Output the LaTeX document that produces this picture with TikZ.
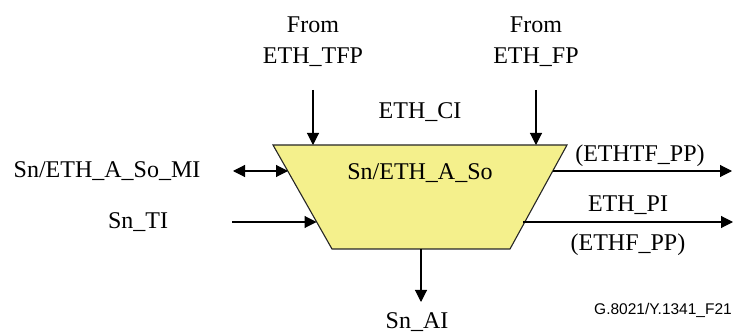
\documentclass[tikz,border=0pt]{standalone}
\usepackage{fontspec}
\setmainfont{Liberation Serif}
\newfontfamily\figsans{Liberation Sans}
\usetikzlibrary{arrows.meta}
\definecolor{boxfill}{HTML}{F4F08C}
\tikzset{
  lbl/.style={font=\fontsize{24}{28}\selectfont, inner sep=0pt},
  conn/.style={line width=1.1pt, -{Triangle[length=12pt,width=12pt]}},
  biconn/.style={line width=1.1pt, {Triangle[length=12pt,width=12pt]}-{Triangle[length=12pt,width=12pt]}},
  blockshape/.style={fill=boxfill, draw=black!85, line width=1.1pt}
}
\begin{document}
\begin{tikzpicture}[x=1pt,y=-1pt]
\useasboundingbox (0,0) rectangle (740,334);
% block
\coordinate (TL) at (273,145);
\coordinate (TR) at (567,145);
\coordinate (BR) at (510,249);
\coordinate (BL) at (332,249);
\draw[blockshape] (TL) -- (TR) -- (BR) -- (BL) -- cycle;
\node[lbl] (blk) at (420,173) {Sn/ETH\_A\_So};
% top inputs
\node[lbl] (f1) at (313,25) {From};
\node[lbl] (tfp) at (313,57) {ETH\_TFP};
\node[lbl] (f2) at (536,25) {From};
\node[lbl] (fp) at (536,57) {ETH\_FP};
\node[lbl] (ci) at (420,112) {ETH\_CI};
\coordinate (tfpS) at (313,90);
\coordinate (tfpE) at (313,145);
\coordinate (fpS) at (536,90);
\coordinate (fpE) at (536,145);
\draw[conn] (tfpS) -- (tfpE);
\draw[conn] (fpS) -- (fpE);
% left
\node[lbl] (mi) at (107,171) {Sn/ETH\_A\_So\_MI};
\node[lbl] (ti) at (138,222) {Sn\_TI};
\coordinate (miS) at (233,171);
\coordinate (miE) at (288,171);
\coordinate (tiS) at (232,222);
\coordinate (tiE) at (316.5,222);
\draw[biconn] (miS) -- (miE);
\draw[conn] (tiS) -- (tiE);
% right
\node[lbl] (htf) at (640,156) {(ETHTF\_PP)};
\node[lbl] (pi) at (628,205) {ETH\_PI};
\node[lbl] (hf) at (628,245) {(ETHF\_PP)};
\coordinate (htfS) at (553,171);
\coordinate (htfE) at (732,171);
\coordinate (piS) at (523,222);
\coordinate (piE) at (733,222);
\draw[conn] (htfS) -- (htfE);
\draw[conn] (piS) -- (piE);
% bottom
\coordinate (aiS) at (421,249);
\coordinate (aiE) at (421,302);
\draw[conn] (aiS) -- (aiE);
\node[lbl] (ai) at (417,322) {Sn\_AI};
\node[inner sep=0pt, font=\figsans\fontsize{15.5}{18}\selectfont] (fig) at (663,310) {G.8021/Y.1341\_F21};
\end{tikzpicture}
\end{document}
